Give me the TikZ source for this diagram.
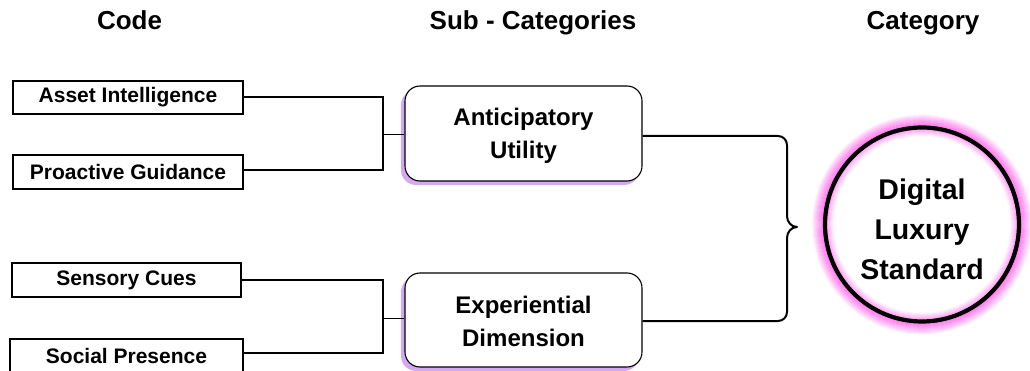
\documentclass[tikz,border=0pt]{standalone}
\usepackage{fontspec}
\setmainfont{Liberation Sans}
\definecolor{shadowpurple}{HTML}{D6A8F2}
\definecolor{glowpink}{HTML}{FF70EC}
\begin{document}
\begin{tikzpicture}[x=1pt,y=-1pt,
  header/.style={font=\bfseries\fontsize{26}{30}\selectfont, anchor=base},
  codebox/.style={draw, line width=1.1pt, minimum width=230pt, minimum height=33pt,
    inner sep=0pt, font=\bfseries\fontsize{21}{24}\selectfont},
  subbox/.style={draw, line width=1.1pt, rounded corners=15pt, fill=white,
    minimum width=237pt, minimum height=95pt, align=center,
    font=\bfseries\fontsize{24}{33}\selectfont},
  link/.style={line width=2.4pt},
  tick/.style={line width=1pt}]
\useasboundingbox (0,0) rectangle (1030,371);

% column headers
\node[header] (hcode) at (129.5,30) {Code};
\node[header] (hsub) at (533,30) {Sub - Categories};
\node[header] (hcat) at (923,30) {Category};

% codes
\node[codebox] (asset) at (128,97.5) {Asset Intelligence};
\node[codebox, minimum height=34pt] (proactive) at (128,172) {Proactive Guidance};
\node[codebox, minimum width=229pt, minimum height=34pt] (sensory) at (126.5,280) {Sensory Cues};
\node[codebox, minimum width=233pt, minimum height=34pt] (social) at (126.5,356) {Social Presence};

% sub-categories with soft purple shadow
\fill[shadowpurple, rounded corners=15pt] (401,90) rectangle (639,185);
\node[subbox] (antic) at (523.5,133.5) {};
\node[align=center, font=\bfseries\fontsize{24}{33}\selectfont] (antictext) at (523.5,135.5) {Anticipatory\\Utility};
\fill[shadowpurple, rounded corners=15pt] (401,277) rectangle (639,371);
\node[subbox, minimum height=94pt] (exper) at (523.5,320) {};
\node[align=center, font=\bfseries\fontsize{24}{33}\selectfont] (expertext) at (523.5,321) {Experiential\\Dimension};

% brackets joining codes to sub-categories
\coordinate (j1) at (383,135);
\coordinate (j2) at (383,318);
\draw[link] (asset.east |- 0,97) -- (383,97) -- (383,170) -- (proactive.east |- 0,170);
\draw[tick] (j1) -- (antic.west |- j1);
\draw[link] (sensory.east |- 0,280) -- (383,280) -- (383,353) -- (social.east |- 0,353);
\draw[tick] (j2) -- (exper.west |- j2);

% category with pink glow
\coordinate (cc) at (922,224.5);
\foreach \d in {0,1,...,15} {
  \pgfmathsetmacro{\p}{max(0,100-4*\d-0.25*\d*\d)}
  \draw[glowpink!\p!white, line width=1.3pt] (cc) circle[radius=97+\d];
}
\foreach \d in {0,1,...,11} {
  \pgfmathsetmacro{\p}{max(0,85-9*\d)}
  \draw[glowpink!\p!white, line width=1.3pt] (cc) circle[radius=97-\d];
}
\draw[line width=4.2pt] (cc) circle[radius=97];
\node[align=center, font=\bfseries\fontsize{28.5}{40}\selectfont] (digital) at (922,229.5) {Digital\\Luxury\\Standard};

% curly bracket joining sub-categories to category
\coordinate (tip) at (797,227);
\draw[link, line width=2pt, line join=round]
  (antic.east |- 0,136) -- (778,136) to[out=0,in=90] (787,145) -- (787,216)
  to[out=-90,in=180] (tip) to[out=180,in=90] (787,238) -- (787,312)
  to[out=-90,in=0] (778,321) -- (exper.east |- 0,321);
\end{tikzpicture}
\end{document}
